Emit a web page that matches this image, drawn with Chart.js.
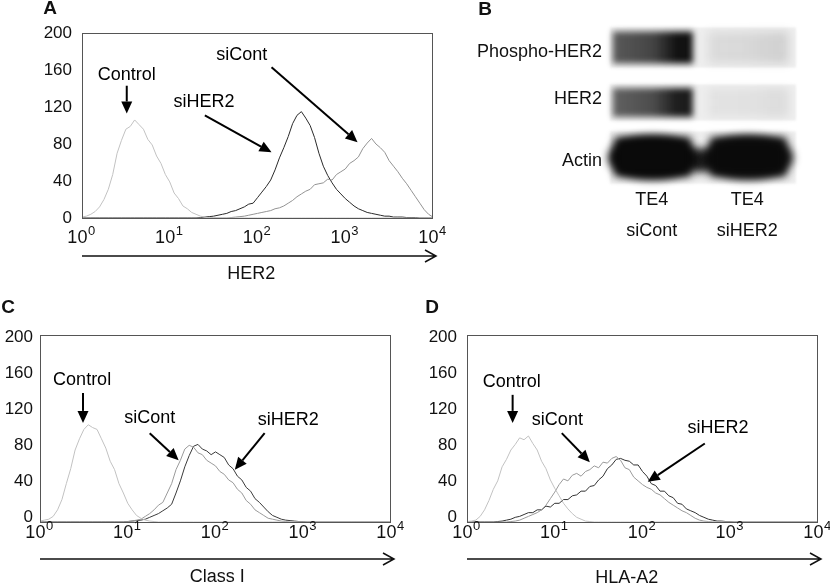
<!DOCTYPE html>
<html>
<head>
<meta charset="utf-8">
<script src="https://cdn.jsdelivr.net/npm/chart.js@4.4.1/dist/chart.umd.min.js"></script>
<style>
  body { margin: 0; background: #fff; }
  #fig { position: relative; width: 830px; height: 588px; overflow: hidden; }
  canvas { position: absolute; }
</style>
</head>
<body>
<div id="fig">
  <canvas id="cA" width="450" height="290" style="left:0;top:0"></canvas>
  <canvas id="cB" width="380" height="250" style="left:450px;top:0"></canvas>
  <canvas id="cC" width="410" height="293" style="left:0;top:295px"></canvas>
  <canvas id="cD" width="420" height="293" style="left:410px;top:295px"></canvas>
</div>
<script>
// flow histograms (A, C, D) + western blot (B)

const FONT = '"Liberation Sans", Arial, sans-serif';

// channel positions, in decades (log10 of intensity)
const LOGX = [0,0.05,0.1,0.15,0.2,0.25,0.3,0.35,0.4,0.45,0.5,0.55,0.6,0.65,0.7,0.75,0.8,0.85,0.9,0.95,
  1,1.05,1.1,1.15,1.2,1.25,1.3,1.35,1.4,1.45,1.5,1.55,1.6,1.65,1.7,1.75,1.8,1.85,1.9,1.95,
  2,2.05,2.1,2.15,2.2,2.25,2.3,2.35,2.4,2.45,2.5,2.55,2.6,2.65,2.7,2.75,2.8,2.85,2.9,2.95,
  3,3.05,3.1,3.15,3.2,3.25,3.3,3.35,3.4,3.45,3.5,3.55,3.6,3.65,3.7,3.75,3.8,3.85,3.9,3.95,4];

const X_EXPONENTS = ["0", "1", "2", "3", "4"];
const Y_TICKS = [0, 40, 80, 120, 160, 200];

// panel A: HER2
const A_CONTROL = [1,2,4,7,12,20,31,47,70,84,96,99,106,101,96,85,79,67,59,47,39,27,21,13,10,6,4,2,1];
const A_SIHER2 = [0,0,0,0,0,0,0,0,0,0, 0,0,0,0,0,0,0,0,0,0, 0,0,0,0,0,0,0,
  0.5,1,1.5,2,3,4,5,7,8,10, 12,15,16,22,28,34,41,52,65,76, 88,102,111,115,108,100,87,70,56,46,
  38,31,26,21,17,13,10,8,6,5, 4,3,2,2,1,1,1,0.5,0.5,0.5];
const A_SICONT = [0,0,0,0,0,0,0,0,0,0, 0,0,0,0,0,0,0,0,0,0, 0,0,0,0,0,0,0,0,0,0, 0,0,0,0,
  0.5,1,1.5,2,3,4,5,6,7,8, 10,11,13,16,19,23,26,29,31,36, 37,38,42,41,47,50,53,59,62,66,
  75,81,86,80,76,71,62,56,50,43, 37,30,23,16,9,4,1];

// panel C: class I
const C_CONTROL = [1,2,3,6,13,24,41,57,77,89,99,104,101,99,89,79,65,56,41,31,20,13,7,4,2,1,0.5];
const C_SICONT = [0,0,0,0,0,0,0,0,0,0, 0,0,0,0,0,0,0,0,0,0,
  0.5,1,2,3,6,9,13,18,21,31, 41,56,66,78,82,80,74,72,66,63, 60,54,51,45,42,35,31,23,19,13,
  10,7,4,3,2,1,0.5];
const C_SIHER2 = [0,0,0,0,0,0,0,0,0,0, 0,0,0,0,0,0,0,0,0,0,
  0.5,1,1.5,2,3,5,7,9,12,15, 19,31,44,59,71,81,83,78,76,72, 75,72,69,61,57,49,45,37,33,25,
  21,16,11,7,5,3,2,1.5,1,0.5, 0.5];

// panel D: HLA-A2
const D_CONTROL = [0.5,1,2,6,13,23,35,44,59,67,77,83,90,88,92,84,77,65,57,45,36,28,20,14,9,5,3,1,0.5];
const D_SICONT = [0,0,0,0,0,0,0,0,0,0,
  0.5,1,2,4,6,8,10,13,18,25, 32,40,46,44,50,52,49,54,56,60, 58,64,63,68,70,66,58,56,48,44,
  40,37,35,31,29,25,21,18,15,12, 10,7,4,2,1,0.5];
const D_SIHER2 = [0,0,0,0,0,0,0,
  0.5,1,2,3,5,6,8,10,10,13, 13,17,16,20,20,24,24,28,29,33, 33,38,39,45,49,57,61,67,68,66,
  65,61,61,54,49,41,39,33,33,28, 26,20,19,14,12,10,7,5,3,2, 1,1,0.5,0.5];

// panel B: blot, band intensity 0..1 per lane
const LANES = ["siCont", "siHER2"];
const BLOT_ROWS = ["Phospho-HER2", "HER2", "Actin"];
const PHOSPHO = [0.95, 0.12];
const HER2_BAND = [0.9, 0.07];
const ACTIN = [1.0, 0.97];

const pts = (vals) => LOGX.map((l, i) => ({ x: 10 ** l, y: vals[i] ?? 0 }));

function arrow(ctx, x1, y1, x2, y2) {
  const ang = Math.atan2(y2 - y1, x2 - x1), L = 12, W = 5.5;
  const bx = x2 - L * Math.cos(ang), by = y2 - L * Math.sin(ang);
  ctx.lineWidth = 2;
  ctx.beginPath(); ctx.moveTo(x1, y1); ctx.lineTo(bx, by); ctx.stroke();
  ctx.beginPath();
  ctx.moveTo(x2, y2);
  ctx.lineTo(bx + W * Math.sin(ang), by - W * Math.cos(ang));
  ctx.lineTo(bx - W * Math.sin(ang), by + W * Math.cos(ang));
  ctx.closePath(); ctx.fill();
}

function label10(ctx, px, py, exp) {
  ctx.font = "18px " + FONT;
  const w1 = ctx.measureText("10").width;
  ctx.font = "13px " + FONT;
  const w2 = ctx.measureText(exp).width;
  const x0 = px - (w1 + w2) / 2;
  ctx.textAlign = "left";
  ctx.textBaseline = "alphabetic";
  ctx.font = "18px " + FONT;
  ctx.fillText("10", x0, py + 6.5);
  ctx.font = "13px " + FONT;
  ctx.fillText(exp, x0 + w1 + 0.5, py - 1.5);
}

const histDeco = {
  id: "histDeco",
  afterDraw(chart, args, o) {
    const { ctx, chartArea: a, scales: { x, y } } = chart;
    const px = (l) => x.getPixelForValue(10 ** l);
    ctx.save();
    ctx.strokeStyle = "#555";
    ctx.lineWidth = 1;
    ctx.strokeRect(a.left + 0.5, a.top + 0.5, a.right - a.left - 1, a.bottom - a.top);

    // y labels sit slightly compressed in C and D
    ctx.fillStyle = "#111";
    ctx.font = "17px " + FONT;
    ctx.textAlign = "right";
    ctx.textBaseline = "middle";
    for (const t of Y_TICKS) {
      const dy = o.yShift[0] + (o.yShift[1] - o.yShift[0]) * t / 200;
      ctx.fillText(String(t), a.left - o.gapY, y.getPixelForValue(t) + dy);
    }
    X_EXPONENTS.forEach((e, i) => label10(ctx, px(i) - 1, a.bottom + o.dyX, e));

    // axis arrow
    const ay = a.bottom + o.dyArrow, ax2 = a.right + 3;
    ctx.strokeStyle = "#111";
    ctx.lineWidth = 1.5;
    ctx.beginPath();
    ctx.moveTo(a.left, ay); ctx.lineTo(ax2, ay);
    ctx.moveTo(ax2 - 11, ay - 6); ctx.lineTo(ax2, ay); ctx.lineTo(ax2 - 11, ay + 6);
    ctx.stroke();

    ctx.font = "18px " + FONT;
    ctx.textAlign = "center";
    ctx.textBaseline = "middle";
    ctx.fillText(o.title, px(o.titleAt), a.bottom + o.dyTitle);

    ctx.font = "bold 19px " + FONT;
    ctx.fillText(o.letter, o.letterAt[0], o.letterAt[1]);

    ctx.font = "18px " + FONT;
    ctx.fillStyle = "#000";
    ctx.strokeStyle = "#000";
    for (const n of o.notes) {
      ctx.fillText(n.text, px(n.at[0]), y.getPixelForValue(n.at[1]));
      arrow(ctx, px(n.from[0]), y.getPixelForValue(n.from[1]), px(n.to[0]), y.getPixelForValue(n.to[1]));
    }
    ctx.restore();
  },
};

function histChart(id, pad, series, deco) {
  return new Chart(document.getElementById(id), {
    type: "line",
    data: {
      datasets: series.map(([vals, color]) => ({
        data: pts(vals),
        borderColor: color,
        borderWidth: 1,
        pointRadius: 0,
        tension: 0,
        fill: false,
      })),
    },
    options: {
      responsive: false,
      animation: false,
      devicePixelRatio: 1,
      layout: { padding: pad },
      plugins: { legend: { display: false }, tooltip: { enabled: false }, histDeco: deco },
      scales: {
        x: { type: "logarithmic", min: 1, max: 10000, display: false },
        y: { min: 0, max: 200, display: false },
      },
    },
    plugins: [histDeco],
  });
}

histChart("cA", { left: 82, top: 33, right: 17, bottom: 72 },
  [[A_CONTROL, "#c2c2c2"], [A_SICONT, "#939393"], [A_SIHER2, "#2a2a2a"]],
  {
    letter: "A", letterAt: [50, 9], title: "HER2", titleAt: 1.93,
    gapY: 10, yShift: [0, 0], dyX: 18, dyArrow: 38, dyTitle: 56,
    notes: [
      { text: "Control", at: [0.51, 155], from: [0.51, 143], to: [0.51, 113] },
      { text: "siHER2", at: [1.39, 125], from: [1.40, 111], to: [2.16, 71] },
      { text: "siCont", at: [1.82, 176], from: [2.16, 163], to: [3.14, 82] },
    ],
  });

histChart("cC", { left: 40, top: 40, right: 19, bottom: 66 },
  [[C_CONTROL, "#c2c2c2"], [C_SICONT, "#9a9a9a"], [C_SIHER2, "#3a3a3a"]],
  {
    letter: "C", letterAt: [8, 13], title: "Class I", titleAt: 2.02,
    gapY: 7, yShift: [-5, 2], dyX: 9, dyArrow: 37, dyTitle: 55,
    notes: [
      { text: "Control", at: [0.48, 152], from: [0.49, 138], to: [0.49, 106] },
      { text: "siCont", at: [1.25, 111], from: [1.25, 95], to: [1.58, 66] },
      { text: "siHER2", at: [2.83, 109], from: [2.56, 95], to: [2.22, 56] },
    ],
  });

histChart("cD", { left: 57, top: 40, right: 12, bottom: 66 },
  [[D_CONTROL, "#c2c2c2"], [D_SICONT, "#9a9a9a"], [D_SIHER2, "#333333"]],
  {
    letter: "D", letterAt: [22, 13], title: "HLA-A2", titleAt: 1.82,
    gapY: 10, yShift: [-5, 2], dyX: 9, dyArrow: 37, dyTitle: 56,
    notes: [
      { text: "Control", at: [0.51, 150], from: [0.52, 136], to: [0.52, 106] },
      { text: "siCont", at: [1.03, 109], from: [1.08, 95], to: [1.40, 64] },
      { text: "siHER2", at: [2.86, 100], from: [2.71, 84], to: [2.06, 43] },
    ],
  });

// blot drawn on a category x category grid
const blotDeco = {
  id: "blotDeco",
  afterDraw(chart) {
    const { ctx, chartArea: a, scales: { x, y } } = chart;
    const laneW = x.getPixelForValue(1) - x.getPixelForValue(0);
    const rows = [PHOSPHO, HER2_BAND, ACTIN];
    const halfH = [20, 18, 26];
    const labelDy = [5, -3, 4];
    ctx.save();
    rows.forEach((vals, r) => {
      const cy = y.getPixelForValue(r);
      const h = halfH[r];
      ctx.filter = "blur(1px)";
      ctx.fillStyle = "#eeeeee";
      ctx.fillRect(a.left + 5, cy - h, a.right - a.left - 5, 2 * h);
      if (r === 2) {
        // bands run together between the lanes, narrower there
        const mid = (x.getPixelForValue(0) + x.getPixelForValue(1)) / 2;
        ctx.filter = "blur(4px)";
        ctx.fillStyle = `rgba(25,25,25,${Math.min(...vals)})`;
        ctx.beginPath();
        ctx.ellipse(mid, cy + 3, 18, h * 0.45, 0, 0, Math.PI * 2);
        ctx.fill();
      }
      vals.forEach((v, k) => {
        const cx = x.getPixelForValue(k);
        if (r === 2) {
          ctx.filter = "blur(4px)";
          ctx.fillStyle = `rgba(10,10,10,${v})`;
          ctx.beginPath();
          ctx.ellipse(cx, cy, laneW * 0.47, h * 0.84, 0, 0, Math.PI * 2);
          ctx.fill();
          ctx.fillRect(cx - laneW * 0.4, cy - h * 0.78, laneW * 0.8, h * 1.5);
        } else {
          const bw = laneW * 0.84, bh = h * 1.6;
          const g = ctx.createLinearGradient(cx - bw / 2, 0, cx + bw / 2, 0);
          g.addColorStop(0, `rgba(15,15,15,${v * 0.7})`);
          g.addColorStop(0.5, `rgba(15,15,15,${v * 0.8})`);
          g.addColorStop(0.8, `rgba(5,5,5,${v})`);
          g.addColorStop(1, `rgba(5,5,5,${v})`);
          ctx.filter = v < 0.3 ? "blur(5px)" : "blur(3px)";
          ctx.fillStyle = g;
          ctx.fillRect(cx - bw / 2, cy - bh / 2, bw, bh);
        }
      });
      ctx.filter = "none";
      ctx.fillStyle = "#111";
      ctx.font = "18px " + FONT;
      ctx.textAlign = "right";
      ctx.textBaseline = "middle";
      ctx.fillText(BLOT_ROWS[r], a.left - 3, cy + labelDy[r]);
    });
    ctx.filter = "none";
    ctx.fillStyle = "#111";
    ctx.font = "18px " + FONT;
    ctx.textAlign = "center";
    ctx.textBaseline = "middle";
    LANES.forEach((lane, k) => {
      const cx = x.getPixelForValue(k);
      ctx.fillText("TE4", cx - 1, a.bottom + 15);
      ctx.fillText(lane, cx - 1, a.bottom + 46);
    });
    ctx.font = "bold 19px " + FONT;
    ctx.fillText("B", 35, 10);
    ctx.restore();
  },
};

new Chart(document.getElementById("cB"), {
  type: "bar",
  data: { labels: LANES, datasets: [] },
  options: {
    responsive: false,
    animation: false,
    devicePixelRatio: 1,
    layout: { padding: { left: 155, top: 20, right: 34, bottom: 65 } },
    plugins: { legend: { display: false }, tooltip: { enabled: false } },
    scales: {
      x: { type: "category", offset: true, display: false },
      y: { type: "category", labels: BLOT_ROWS, offset: true, display: false },
    },
  },
  plugins: [blotDeco],
});
</script>
</body>
</html>
